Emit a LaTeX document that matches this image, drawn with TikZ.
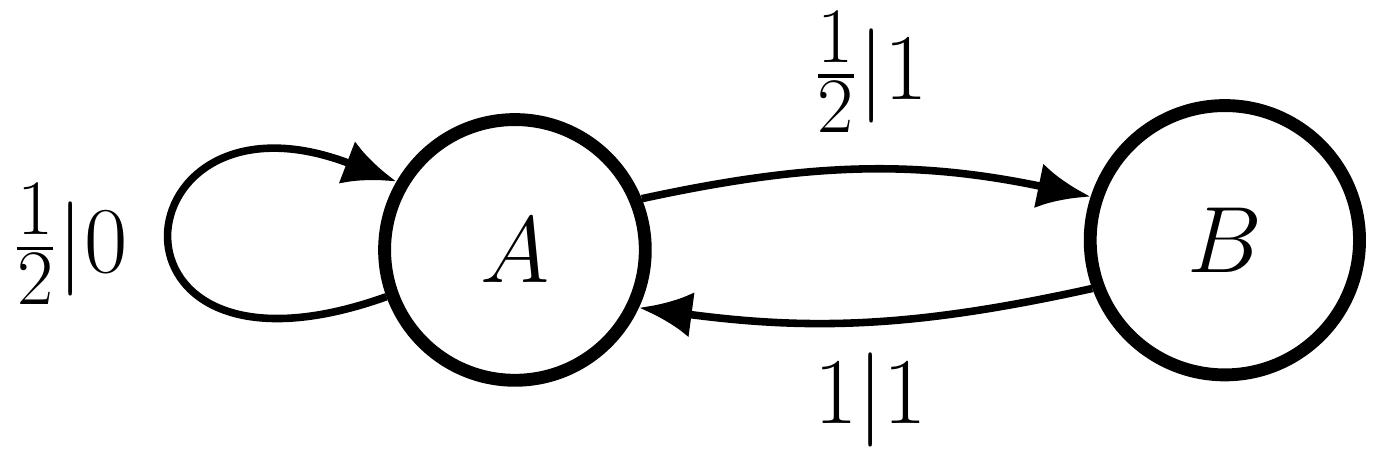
\documentclass[tikz,border=0pt]{standalone}
\usepackage{amsmath}
\usetikzlibrary{arrows.meta}

\begin{document}
\begin{tikzpicture}[
        state/.style={circle, draw, line width=3.4pt, minimum size=2.42cm, font=\Huge},
        trans/.style={-{Latex[length=14pt, width=12pt]}, line width=2pt},
        trans_label/.style={font=\Huge}
    ]
        \useasboundingbox (0,0) rectangle (12.81,4.27);

        % States
        \node[state] (A) at (4.78,1.95) {$A$};
        \node[state, minimum size=2.5cm] (B) at (11.37,2.04) {$B$};

        % Transitions
        \draw[trans] (A.200) .. controls +(-2.8,-1.0) and +(-2.6,1.0) .. (A.150);
        \draw[trans] (A.22) to[bend left=12] (B.162);
        \draw[trans] (B.200) to[bend left=10] (A.335);

        % Labels
        \node[trans_label] (l_loop) at (0.65,2.0) {$\tfrac{1}{2}|0$};
        \node[trans_label] (l_ab) at (8.08,3.6) {$\tfrac{1}{2}|1$};
        \node[trans_label] (l_ba) at (8.08,0.56) {$1|1$};
    \end{tikzpicture}
\end{document}
